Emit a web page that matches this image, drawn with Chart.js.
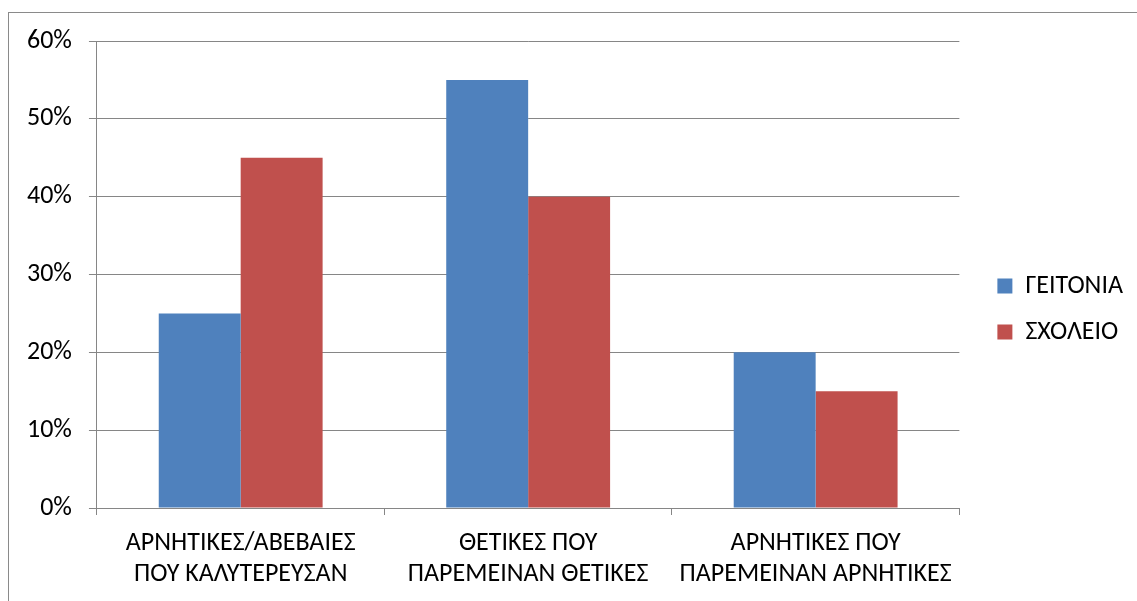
<!DOCTYPE html>
<html>
<head>
<meta charset="utf-8">
<script src="https://cdn.jsdelivr.net/npm/chart.js@4"></script>
<style>
html,body{margin:0;padding:0;background:#fff;}
#wrap{width:1137px;height:601px;position:relative;}
</style>
</head>
<body>
<div id="wrap"><canvas id="c" width="1137" height="601"></canvas></div>
<script>
const categories = [
  ["ΑΡΝΗΤΙΚΕΣ/ΑΒΕΒΑΙΕΣ", "ΠΟΥ ΚΑΛΥΤΕΡΕΥΣΑΝ"],
  ["ΘΕΤΙΚΕΣ ΠΟΥ", "ΠΑΡΕΜΕΙΝΑΝ ΘΕΤΙΚΕΣ"],
  ["ΑΡΝΗΤΙΚΕΣ ΠΟΥ", "ΠΑΡΕΜΕΙΝΑΝ ΑΡΝΗΤΙΚΕΣ"]
];
const seriesNames = ["ΓΕΙΤΟΝΙΑ", "ΣΧΟΛΕΙΟ"];
const geitonia = [25, 55, 20];
const sxoleio = [45, 40, 15];
const yTicks = [0, 10, 20, 30, 40, 50, 60];

const FONT = "Carlito, Calibri, 'Liberation Sans', sans-serif";
const GRID = '#868686';

const framePlugin = {
  id: 'frame',
  beforeDraw(chart) {
    const ctx = chart.ctx;
    ctx.save();
    ctx.fillStyle = '#fff';
    ctx.fillRect(0, 0, chart.width, chart.height);
    ctx.strokeStyle = '#8a8a8a';
    ctx.lineWidth = 1;
    ctx.strokeRect(8.5, 12.5, 1300, 700);
    ctx.restore();
  }
};

new Chart(document.getElementById('c'), {
  type: 'bar',
  data: {
    labels: categories,
    datasets: [
      { label: seriesNames[0], data: geitonia, backgroundColor: '#4F81BD', borderWidth: 0, xAxisID: 'x', yAxisID: 'y' },
      { label: seriesNames[1], data: sxoleio, backgroundColor: '#C0504D', borderWidth: 0, xAxisID: 'x', yAxisID: 'y' }
    ]
  },
  options: {
    responsive: false,
    animation: false,
    devicePixelRatio: 1,
    layout: { padding: { left: 10, top: 30, right: 4, bottom: 13 } },
    datasets: { bar: { categoryPercentage: 0.57, barPercentage: 1.0 } },
    plugins: {
      legend: {
        position: 'right',
        labels: {
          font: { family: FONT, size: 26 },
          color: '#000',
          boxWidth: 15,
          boxHeight: 15,
          padding: 20
        }
      },
      tooltip: { enabled: false }
    },
    scales: {
      x: {
        offset: true,
        grid: { display: true, drawOnChartArea: false, drawTicks: true, tickLength: 7, color: GRID, offset: true },
        border: { display: true, color: GRID },
        ticks: { font: { family: FONT, size: 26, lineHeight: 1.2 }, color: '#000', padding: 13, maxRotation: 0, autoSkip: false },
        afterFit(axis) { axis.height = 80; }
      },
      y: {
        min: 0, max: 60,
        afterBuildTicks(axis) { axis.ticks = yTicks.map(v => ({ value: v })); },
        grid: { color: GRID, drawTicks: true, tickLength: 8 },
        border: { display: true, color: GRID },
        ticks: { font: { family: FONT, size: 26 }, color: '#000', padding: 17, callback: v => v + '%' }
      },
      xTop: {
        type: 'category',
        axis: 'x',
        position: 'top',
        display: true,
        grid: { display: false },
        border: { display: false },
        ticks: { display: false },
        afterFit(axis) { axis.height = 11; }
      },
      yRight: {
        type: 'linear',
        axis: 'y',
        position: 'right',
        display: true,
        grid: { display: false },
        border: { display: false },
        ticks: { display: false },
        afterFit(axis) { axis.width = 18; }
      }
    }
  },
  plugins: [framePlugin]
});
</script>
</body>
</html>
